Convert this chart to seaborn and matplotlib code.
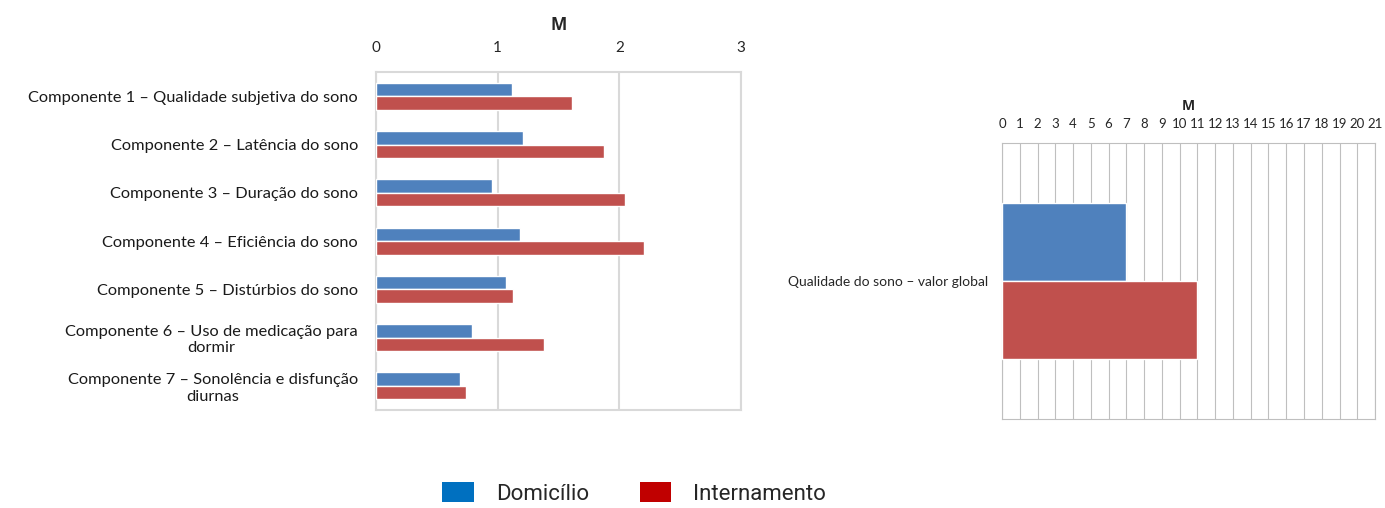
import numpy as np
import pandas as pd
import matplotlib.pyplot as plt
import seaborn as sns
from matplotlib.patches import Patch

# ---- data ----
components = [
    "Componente 1 – Qualidade subjetiva do sono",
    "Componente 2 – Latência do sono",
    "Componente 3 – Duração do sono",
    "Componente 4 – Eficiência do sono",
    "Componente 5 – Distúrbios do sono",
    "Componente 6 – Uso de medicação para\ndormir",
    "Componente 7 – Sonolência e disfunção\ndiurnas",
]
domicilio = [1.12, 1.21, 0.95, 1.18, 1.07, 0.79, 0.69]
internamento = [1.61, 1.87, 2.05, 2.20, 1.13, 1.38, 0.74]

global_label = ["Qualidade do sono – valor global"]
global_domicilio = [7]
global_internamento = [11]

groups = ["Domicílio", "Internamento"]
bar_colors = ["#4F81BD", "#C0504D"]
legend_colors = ["#0070C0", "#C00000"]

sns.set_style("white")
plt.rcParams["font.family"] = ["Lato", "DejaVu Sans"]

df_comp = pd.DataFrame({
    "comp": components * 2,
    "M": domicilio + internamento,
    "grupo": [groups[0]] * len(components) + [groups[1]] * len(components),
})
df_glob = pd.DataFrame({
    "comp": global_label * 2,
    "M": global_domicilio + global_internamento,
    "grupo": groups,
})

fig = plt.figure(figsize=(13.85, 5.08), dpi=100)
ax1 = fig.add_axes([0.2715, 0.193, 0.2635, 0.665])
ax2 = fig.add_axes([0.7235, 0.175, 0.2693, 0.544])

# ---- left chart: components ----
sns.barplot(data=df_comp, y="comp", x="M", hue="grupo", hue_order=groups,
            palette=bar_colors, orient="h", width=0.56, saturation=1,
            legend=False, ax=ax1, zorder=3)
ax1.set_xlim(0, 3)
ax1.set_xticks([0, 1, 2, 3])
ax1.xaxis.tick_top()
ax1.xaxis.set_label_position("top")
ax1.set_xlabel("M", fontsize=12.5, fontweight="bold", labelpad=8,
               family=["Open Sans", "DejaVu Sans"])
ax1.set_ylabel("")
ax1.tick_params(axis="x", length=0, labelsize=11, pad=12)
ax1.tick_params(axis="y", length=0, labelsize=11.8, pad=13, labelcolor="#1a1a1a")
for lbl in ax1.get_yticklabels():
    lbl.set_multialignment("center")
ax1.grid(axis="x", color="#D9D9D9", linewidth=1.5, zorder=0)
for sp in ax1.spines.values():
    sp.set_visible(True)
    sp.set_color("#D9D9D9")
    sp.set_linewidth(1.5)

# ---- right chart: global score ----
sns.barplot(data=df_glob, y="comp", x="M", hue="grupo", hue_order=groups,
            palette=bar_colors, orient="h", width=0.566, saturation=1,
            legend=False, ax=ax2, zorder=3)
ax2.set_xlim(0, 21)
ax2.set_xticks(range(0, 22))
ax2.xaxis.tick_top()
ax2.xaxis.set_label_position("top")
ax2.set_xlabel("M", fontsize=10, fontweight="bold", labelpad=6,
               family=["Open Sans", "DejaVu Sans"])
ax2.set_ylabel("")
ax2.tick_params(axis="x", length=0, labelsize=9.5, pad=9)
ax2.tick_params(axis="y", length=0, labelsize=10, pad=10)
ax2.grid(axis="x", color="#BFBFBF", linewidth=0.8, zorder=0)
for sp in ax2.spines.values():
    sp.set_visible(True)
    sp.set_color("#BFBFBF")
    sp.set_linewidth(0.8)

# ---- legend ----
handles = [Patch(facecolor=c, edgecolor="none", label=g)
           for g, c in zip(groups, legend_colors)]
fig.legend(handles=handles, loc="center", bbox_to_anchor=(0.458, 0.028),
           ncol=2, frameon=False, handlelength=1.4,
           handleheight=1.0, columnspacing=2.3, handletextpad=1.0,
           prop={"family": ["Roboto", "DejaVu Sans"], "size": 16})

fig.savefig("out.png", dpi=100)
